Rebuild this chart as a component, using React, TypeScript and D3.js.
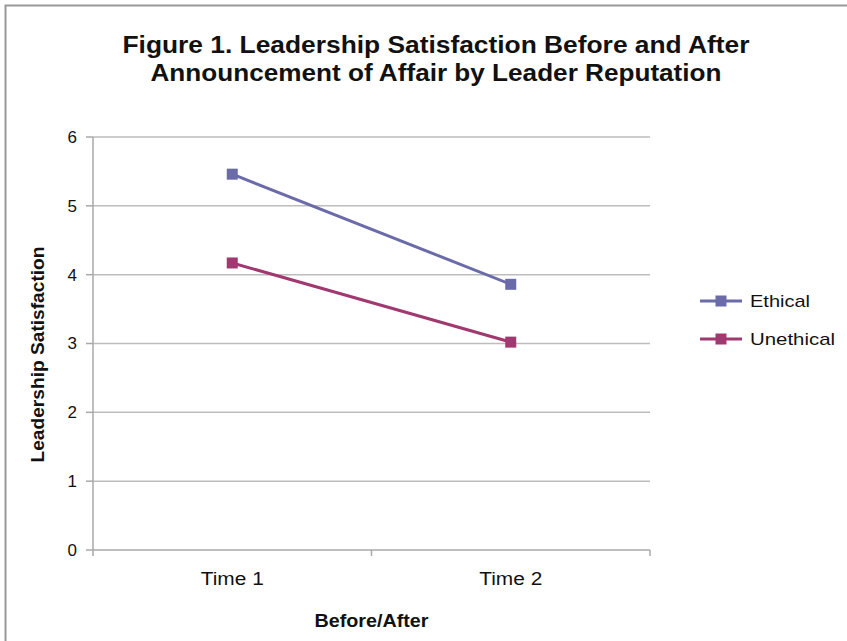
import React from "react";
import * as d3 from "d3";

const categories = ["Time 1", "Time 2"];
const ethical = [5.46, 3.86];
const unethical = [4.17, 3.02];
const seriesNames = ["Ethical", "Unethical"];
const yTicks = [0, 1, 2, 3, 4, 5, 6];
const titleLines = [
  "Figure 1. Leadership Satisfaction Before and After",
  "Announcement of Affair by Leader Reputation",
];

const W = 847;
const H = 641;
const margin = { left: 93, right: 197, top: 137, bottom: 91 };
const colors = ["#6B6BAA", "#A0396F"];
const font = "'Liberation Sans', Arial, Helvetica, sans-serif";

// approximate rendered widths of text in the reference
const titleWidths = [627, 571];
const catWidth = 63;
const legendWidths = [60, 85];

export default function App() {
  const x = d3
    .scaleBand<string>()
    .domain(categories)
    .range([margin.left, W - margin.right]);
  const y = d3
    .scaleLinear()
    .domain([0, 6])
    .range([H - margin.bottom, margin.top]);
  const cx = (c: string) => (x(c) as number) + x.bandwidth() / 2;
  const series = [ethical, unethical];
  const line = d3
    .line<number>()
    .x((_, i) => cx(categories[i]))
    .y((v) => y(v));
  const boundaries = [...categories.map((c) => x(c) as number), x.range()[1]];
  const x0 = margin.left;
  const x1 = W - margin.right;
  const legendY = [301, 339];

  return (
    <div style={{ position: "absolute", left: 0, top: 0 }}>
      <svg width={W} height={H} style={{ display: "block", fontFamily: font }}>
        <rect x={0} y={0} width={W} height={H} fill="#ffffff" />
        <rect
          x={5.5}
          y={5.5}
          width={W + 20}
          height={H + 20}
          fill="none"
          stroke="#999999"
          strokeWidth={2}
        />
        {titleLines.map((t, i) => (
          <text
            key={t}
            x={436}
            y={53 + i * 28}
            textAnchor="middle"
            fontSize={23}
            fontWeight="bold"
            fill="#111"
            textLength={titleWidths[i]}
            lengthAdjust="spacingAndGlyphs"
          >
            {t}
          </text>
        ))}
        {yTicks.map((t) => (
          <g key={t}>
            {t > 0 && (
              <line
                x1={x0}
                x2={x1}
                y1={y(t)}
                y2={y(t)}
                stroke="#BDBDBD"
                strokeWidth={1.5}
              />
            )}
            <line
              x1={x0 - 7}
              x2={x0}
              y1={y(t)}
              y2={y(t)}
              stroke="#A8A8A8"
              strokeWidth={1.5}
            />
            <text
              x={x0 - 16}
              y={y(t)}
              dy="0.35em"
              textAnchor="end"
              fontSize={17}
              fill="#111"
            >
              {t}
            </text>
          </g>
        ))}
        <line
          x1={x0}
          x2={x0}
          y1={y(6)}
          y2={y(0)}
          stroke="#A8A8A8"
          strokeWidth={1.5}
        />
        <line
          x1={x0}
          x2={x1}
          y1={y(0)}
          y2={y(0)}
          stroke="#A8A8A8"
          strokeWidth={1.5}
        />
        {boundaries.map((b, i) => (
          <line
            key={i}
            x1={b}
            x2={b}
            y1={y(0)}
            y2={y(0) + 6}
            stroke="#A8A8A8"
            strokeWidth={1.5}
          />
        ))}
        {categories.map((c) => (
          <text
            key={c}
            x={cx(c)}
            y={585}
            textAnchor="middle"
            fontSize={18}
            fill="#111"
            textLength={catWidth}
            lengthAdjust="spacingAndGlyphs"
          >
            {c}
          </text>
        ))}
        <text
          x={(x0 + x1) / 2}
          y={627}
          textAnchor="middle"
          fontSize={18}
          fontWeight="bold"
          fill="#111"
          textLength={114}
          lengthAdjust="spacingAndGlyphs"
        >
          Before/After
        </text>
        <text
          transform={`translate(44,${(y(0) + y(6)) / 2 + 11}) rotate(-90)`}
          textAnchor="middle"
          fontSize={18}
          fontWeight="bold"
          fill="#111"
          textLength={216}
          lengthAdjust="spacingAndGlyphs"
        >
          Leadership Satisfaction
        </text>
        {series.map((s, si) => (
          <g key={si}>
            <path
              d={line(s) || ""}
              fill="none"
              stroke={colors[si]}
              strokeWidth={3}
            />
            {s.map((v, i) => (
              <rect
                key={i}
                x={cx(categories[i]) - 5.5}
                y={y(v) - 5.5}
                width={11}
                height={11}
                fill={colors[si]}
              />
            ))}
          </g>
        ))}
        {seriesNames.map((n, i) => (
          <g key={n}>
            <line
              x1={700}
              x2={742}
              y1={legendY[i]}
              y2={legendY[i]}
              stroke={colors[i]}
              strokeWidth={3}
            />
            <rect
              x={715.5}
              y={legendY[i] - 5.5}
              width={11}
              height={11}
              fill={colors[i]}
            />
            <text
              x={750}
              y={legendY[i]}
              dy="0.35em"
              fontSize={17}
              fill="#111"
              textLength={legendWidths[i]}
              lengthAdjust="spacingAndGlyphs"
            >
              {n}
            </text>
          </g>
        ))}
      </svg>
    </div>
  );
}
